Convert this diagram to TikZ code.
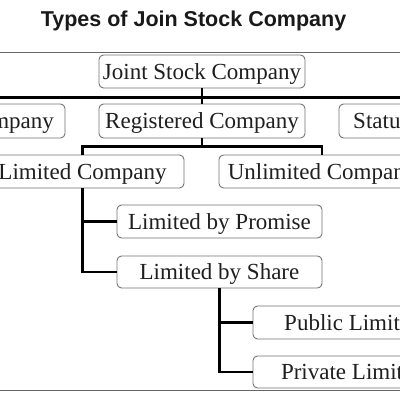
\documentclass[tikz,border=0pt]{standalone}
\usepackage{fontspec}
\setmainfont{Liberation Serif}
\newfontfamily\titlefont{Liberation Sans}
\usepackage{tikz}
\usetikzlibrary{positioning}
\tikzset{
  jsc-box/.style={draw=black!55, fill=white, rounded corners=4.5pt, line width=0.9pt,
    font=\fontsize{23}{23}\selectfont, text=black!88, inner sep=0pt,
    minimum height=33pt, text height=15pt, text depth=0pt},
  jsc-link/.style={draw=black, line width=2.6pt},
  jsc-frame/.style={draw=black!60, line width=0.8pt}
}

\begin{document}
\begin{tikzpicture}[x=1pt, y=-1pt]
  \useasboundingbox (0,0) rectangle (400,400);
  \clip (0,0) rectangle (400,400);
  % Title and frame
  \node[font=\titlefont\bfseries\fontsize{21.5}{21.5}\selectfont, text=black!90, anchor=base] (title) at (193.5,26) {Types of Join Stock Company};
  \draw[jsc-frame] (-5,52) rectangle (405,390);

  % --- Top level ---
  \node[jsc-box, minimum width=206pt] (jsc) at (202,71.5) {Joint Stock Company};

  % --- Second level ---
  \node[jsc-box, minimum width=208pt, minimum height=34pt] (chartered) at (-39,121) {Chartered Company};
  \node[jsc-box, minimum width=206pt, minimum height=34pt] (registered) at (202,121) {Registered Company};
  \node[jsc-box, minimum width=208pt, minimum height=34pt] (statutory) at (443,121) {Statutory Company};

  % --- Registered company: limited / unlimited ---
  \node[jsc-box, minimum width=203pt] (limited) at (82.5,171.5) {Limited Company};
  \node[jsc-box, minimum width=206pt] (unlimited) at (322,171.5) {Unlimited Company};

  % --- Limited company branches ---
  \node[jsc-box, minimum width=205pt] (promise) at (219.5,221.5) {Limited by Promise};
  \node[jsc-box, minimum width=205pt, minimum height=32pt] (share) at (219.5,272) {Limited by Share};

  % --- Limited by share branches ---
  \node[jsc-box, minimum width=295pt] (public) at (400.5,322.5) {Public Limited Company};
  \node[jsc-box, minimum width=295pt, minimum height=32pt] (private) at (400.5,372) {Private Limited Company};

  % Connectors
  \draw[jsc-link] (jsc.south) -- ++(0,9) coordinate (jscbus);
  \draw[jsc-link] (chartered.north) |- (jscbus) -| (statutory.north);
  \draw[jsc-link] (registered.north) -- (jscbus);
  \draw[jsc-link] (registered.south) -- ++(0,8) coordinate (regbus);
  \draw[jsc-link] (limited.north) |- (regbus) -| (unlimited.north);
  \draw[jsc-link] (limited.south) |- (promise.west);
  \draw[jsc-link] (limited.south) |- (share.west);
  \draw[jsc-link] (share.south) |- (public.west);
  \draw[jsc-link] (share.south) |- (private.west);
\end{tikzpicture}
\end{document}
